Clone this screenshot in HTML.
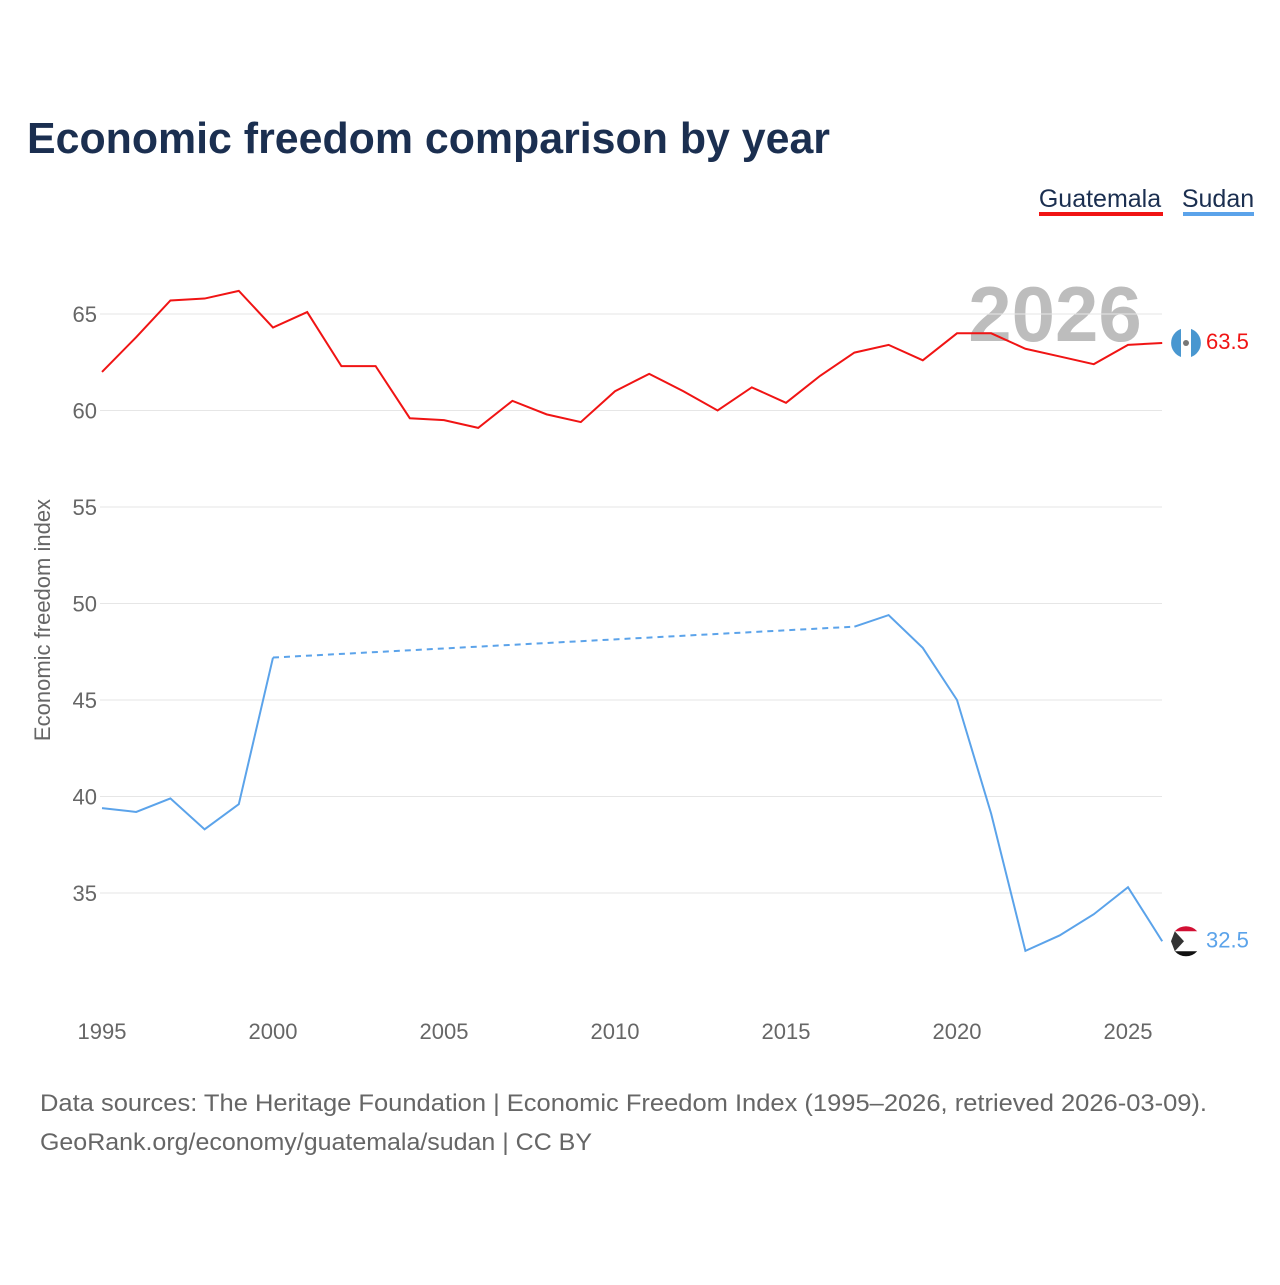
<!DOCTYPE html>
<html><head><meta charset="utf-8"><style>
body{margin:0;background:#fff;font-family:"Liberation Sans",sans-serif;}
svg text{font-family:"Liberation Sans",sans-serif;}
</style></head><body>
<svg id="chart" width="1280" height="1280" xmlns="http://www.w3.org/2000/svg">
<text x="27" y="153" font-size="44" font-weight="bold" fill="#1b2f50" textLength="803" lengthAdjust="spacingAndGlyphs">Economic freedom comparison by year</text>
<g>
<text x="1100" y="207" font-size="25" fill="#1b2f50" text-anchor="middle">Guatemala</text>
<rect x="1039" y="212" width="124" height="4" fill="#f01414"/>
<text x="1218" y="207" font-size="25" fill="#1b2f50" text-anchor="middle">Sudan</text>
<rect x="1183" y="212" width="71" height="4" fill="#5ba3ea"/>
</g>
<text x="1055" y="341" font-size="78" font-weight="bold" fill="#bdbdbd" text-anchor="middle">2026</text>
<text transform="translate(50,620) rotate(-90)" font-size="22" fill="#666" text-anchor="middle">Economic freedom index</text>
<g id="grid"></g><g id="series"></g>
<text x="40" y="1111" font-size="24" fill="#666" textLength="1167" lengthAdjust="spacingAndGlyphs">Data sources: The Heritage Foundation | Economic Freedom Index (1995–2026, retrieved 2026-03-09).</text>
<text x="40" y="1150" font-size="24" fill="#666" textLength="552" lengthAdjust="spacingAndGlyphs">GeoRank.org/economy/guatemala/sudan | CC BY</text>
</svg>
<script>
const years=[1995,1996,1997,1998,1999,2000,2001,2002,2003,2004,2005,2006,2007,2008,2009,2010,2011,2012,2013,2014,2015,2016,2017,2018,2019,2020,2021,2022,2023,2024,2025,2026];
const guatemala=[62.0,63.8,65.7,65.8,66.2,64.3,65.1,62.3,62.3,59.6,59.5,59.1,60.5,59.8,59.4,61.0,61.9,61.0,60.0,61.2,60.4,61.8,63.0,63.4,62.6,64.0,64.0,63.2,62.8,62.4,63.4,63.5];
const sudan=[39.4,39.2,39.9,38.3,39.6,47.2,null,null,null,null,null,null,null,null,null,null,null,null,null,null,null,null,48.8,49.4,47.7,45.0,39.1,32.0,32.8,33.9,35.3,32.5];
const yTicks=[35,40,45,50,55,60,65];
const xTicks=[1995,2000,2005,2010,2015,2020,2025];
const NS="http://www.w3.org/2000/svg";
const X=y=>102+(y-1995)*34.2;
const Y=v=>314+(65-v)*19.3;
function mk(t,a,p){const e=document.createElementNS(NS,t);for(const k in a)e.setAttribute(k,a[k]);p.appendChild(e);return e;}
const grid=document.getElementById('grid'),ser=document.getElementById('series');
yTicks.forEach(v=>{
 const l=mk('line',{x1:100,x2:1162,y1:Y(v),y2:Y(v),stroke:'#e6e6e6','stroke-width':1},grid);
 
 
 const t=mk('text',{x:97,y:Y(v)+8,'font-size':22,fill:'#666','text-anchor':'end'},grid);t.textContent=v;
 
 
});
xTicks.forEach(v=>{
 const t=mk('text',{x:X(v),y:1039,'font-size':22,fill:'#666','text-anchor':'middle'},grid);t.textContent=v;
 
 
});
function draw(vals,color,name){
 let segs=[],cur=[],dashed=[],last=null;
 vals.forEach((v,i)=>{
  if(v==null){if(cur.length)segs.push(cur);cur=[];return;}
  if(last!=null&&last.i<i-1)dashed.push([last,{i,v}]);
  cur.push([X(years[i]),Y(v)]);last={i,v};
 });
 if(cur.length)segs.push(cur);
 segs.forEach((s,k)=>{
  const p=mk('polyline',{points:s.map(q=>q.join(',')).join(' '),fill:'none',stroke:color,'stroke-width':2},ser);
  
  
 });
 dashed.forEach(([a,b])=>{
  const p=mk('line',{x1:X(years[a.i]),y1:Y(a.v),x2:X(years[b.i]),y2:Y(b.v),stroke:color,'stroke-width':2,'stroke-dasharray':'6,5'},ser);
  
  
 });
 const lv=vals[vals.length-1],cy=Y(lv),cx=1186;
 const g=mk('g',{},ser);
 
 
 if(name==='guatemala'){
  mk('circle',{cx,cy,r:15,fill:'#fff'},g);
  mk('path',{d:`M${cx-5},${cy-14.1} A15,15 0 0 0 ${cx-5},${cy+14.1} Z`,fill:'#4997d0'},g);
  mk('path',{d:`M${cx+5},${cy-14.1} A15,15 0 0 1 ${cx+5},${cy+14.1} Z`,fill:'#4997d0'},g);
  mk('circle',{cx,cy,r:3,fill:'#777'},g);
 }else{
  mk('circle',{cx,cy,r:15,fill:'#fff'},g);
  mk('path',{d:`M${cx-11.2},${cy-10} A15,15 0 0 1 ${cx+11.2},${cy-10} Z`,fill:'#d21034'},g);
  mk('path',{d:`M${cx-11.2},${cy+10} A15,15 0 0 0 ${cx+11.2},${cy+10} Z`,fill:'#111'},g);
  mk('path',{d:`M${cx-15},${cy} L${cx-11.2},${cy-10} L${cx-2},${cy} L${cx-11.2},${cy+10} Z`,fill:'#333'},g);
 }
 const t=mk('text',{x:1206,y:cy+6,'font-size':22,fill:color},ser);t.textContent=lv.toFixed(1);
 
 
}
draw(guatemala,'#f01414','guatemala');
draw(sudan,'#5ba3ea','sudan');
</script>
</body></html>
